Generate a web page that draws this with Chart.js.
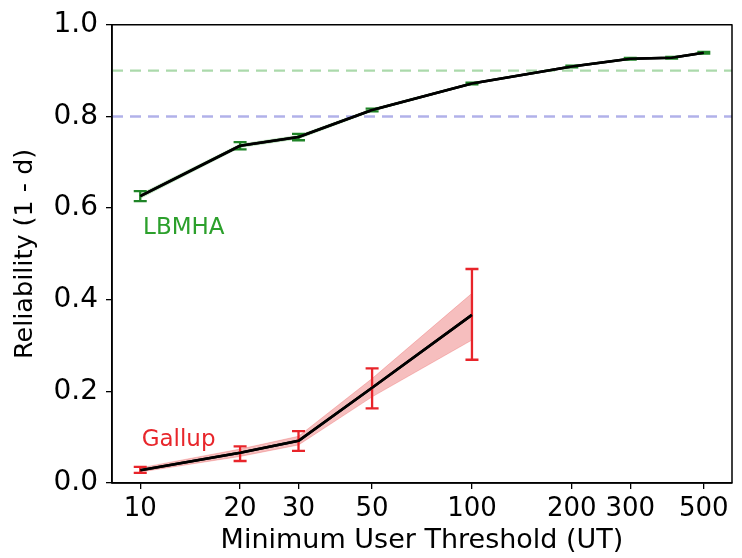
<!DOCTYPE html>
<html>
<head>
<meta charset="utf-8">
<script src="https://cdn.jsdelivr.net/npm/chart.js@4/dist/chart.umd.min.js"></script>
<style>
  body { margin: 0; background: #fff; }
</style>
</head>
<body>
<canvas id="myChart" width="742" height="558"></canvas>
<script>
// thresholds (UT)
const lbmhaX = [10, 20, 30, 50, 100, 200, 300, 400, 500];
const lbmhaY = [0.626, 0.736, 0.755, 0.814, 0.872, 0.909, 0.926, 0.928, 0.939];
const lbmhaErrLo = [0.615, 0.728, 0.748, 0.811, 0.870, 0.907, 0.924, 0.926, 0.937];
const lbmhaErrHi = [0.637, 0.744, 0.762, 0.817, 0.874, 0.911, 0.928, 0.930, 0.941];
const lbmhaBandLo = [0.621, 0.732, 0.751, 0.811, 0.870, 0.907, 0.924, 0.926, 0.937];
const lbmhaBandHi = [0.631, 0.740, 0.759, 0.817, 0.874, 0.911, 0.928, 0.930, 0.941];

const gallupX = [10, 20, 30, 50, 100];
const gallupY = [0.028, 0.066, 0.092, 0.208, 0.367];
const gallupErrLo = [0.022, 0.048, 0.070, 0.163, 0.269];
const gallupErrHi = [0.035, 0.080, 0.113, 0.250, 0.467];
const gallupBandLo = [0.024, 0.058, 0.083, 0.188, 0.312];
const gallupBandHi = [0.033, 0.074, 0.102, 0.228, 0.414];

const refLevels = [0.9, 0.8];
const xTicks = [10, 20, 30, 50, 100, 200, 300, 500];
const xMin = 8.22, xMax = 608;

const FONT = "'DejaVu Sans', sans-serif";

function pts(xs, ys) {
  return xs.map((x, i) => ({x: x, y: ys[i]}));
}

// error bars with caps, drawn from the arrays through the scales
const errorBars = {
  id: 'errorBars',
  afterDatasetsDraw(chart) {
    const ctx = chart.ctx;
    const xs = chart.scales.x, ys = chart.scales.y;
    const sets = [
      {x: lbmhaX, lo: lbmhaErrLo, hi: lbmhaErrHi, color: '#1f8427', w: 2.3},
      {x: gallupX, lo: gallupErrLo, hi: gallupErrHi, color: '#e8242a', w: 2.3}
    ];
    ctx.save();
    sets.forEach(s => {
      ctx.strokeStyle = s.color;
      ctx.lineWidth = s.w;
      s.x.forEach((v, i) => {
        const px = xs.getPixelForValue(v);
        const y1 = ys.getPixelForValue(s.lo[i]);
        const y2 = ys.getPixelForValue(s.hi[i]);
        ctx.beginPath();
        ctx.moveTo(px, y1); ctx.lineTo(px, y2);
        ctx.moveTo(px - 6.5, y1); ctx.lineTo(px + 6.5, y1);
        ctx.moveTo(px - 6.5, y2); ctx.lineTo(px + 6.5, y2);
        ctx.stroke();
      });
    });
    // redraw main lines on top
    [2, 5].forEach(idx => {
      const meta = chart.getDatasetMeta(idx);
      ctx.strokeStyle = '#000';
      ctx.lineWidth = 2.6;
      ctx.lineJoin = 'round';
      ctx.beginPath();
      meta.data.forEach((p, i) => { if (i === 0) ctx.moveTo(p.x, p.y); else ctx.lineTo(p.x, p.y); });
      ctx.stroke();
    });
    // text labels
    ctx.font = '23px ' + FONT;
    ctx.textAlign = 'left';
    ctx.textBaseline = 'middle';
    ctx.fillStyle = '#2ca02c';
    ctx.fillText('LBMHA', xs.getPixelForValue(10.2), ys.getPixelForValue(0.556));
    ctx.fillStyle = '#e8262b';
    ctx.fillText('Gallup', xs.getPixelForValue(10.1), ys.getPixelForValue(0.093));
    // frame
    const a = chart.chartArea;
    ctx.strokeStyle = '#000';
    ctx.lineWidth = 1.5;
    ctx.strokeRect(a.left, a.top, a.right - a.left, a.bottom - a.top);
    ctx.restore();
  }
};

const data = {
  datasets: [
    {
      data: [{x: xMin, y: refLevels[0]}, {x: xMax, y: refLevels[0]}],
      borderColor: 'rgba(44,160,44,0.4)', borderWidth: 2.4, borderDash: [11, 7]
    },
    {
      data: [{x: xMin, y: refLevels[1]}, {x: xMax, y: refLevels[1]}],
      borderColor: 'rgba(60,60,200,0.4)', borderWidth: 2.4, borderDash: [11, 7]
    },
    {
      data: pts(lbmhaX, lbmhaY),
      borderColor: '#000', borderWidth: 2.6
    },
    {
      data: pts(lbmhaX, lbmhaBandHi),
      borderColor: 'rgba(44,160,44,0.3)', borderWidth: 0.5,
      backgroundColor: 'rgba(44,160,44,0.3)', fill: '+1'
    },
    {
      data: pts(lbmhaX, lbmhaBandLo),
      borderColor: 'rgba(44,160,44,0.3)', borderWidth: 0.5
    },
    {
      data: pts(gallupX, gallupY),
      borderColor: '#000', borderWidth: 2.6
    },
    {
      data: pts(gallupX, gallupBandHi),
      borderColor: 'rgba(225,40,40,0.3)', borderWidth: 0.8,
      backgroundColor: 'rgba(225,40,40,0.3)', fill: '+1'
    },
    {
      data: pts(gallupX, gallupBandLo),
      borderColor: 'rgba(225,40,40,0.3)', borderWidth: 0.8
    }
  ]
};

const config = {
  type: 'line',
  data: data,
  plugins: [errorBars],
  options: {
    responsive: false,
    animation: false,
    layout: { padding: { top: 21, right: 10, bottom: 0, left: 0 } },
    elements: { point: { radius: 0 }, line: { tension: 0 } },
    plugins: { legend: { display: false }, tooltip: { enabled: false } },
    scales: {
      x: {
        type: 'logarithmic',
        min: xMin, max: xMax,
        afterBuildTicks: s => { s.ticks = xTicks.map(v => ({value: v})); },
        afterFit: s => { s.height = 75; },
        grid: { drawOnChartArea: false, drawTicks: true, tickLength: 6, color: '#000', lineWidth: 1.3 },
        border: { color: '#000', width: 1.5 },
        ticks: {
          autoSkip: false, maxRotation: 0, padding: 5,
          color: '#000', font: { family: FONT, size: 26 },
          callback: v => String(v)
        },
        title: {
          display: true, text: 'Minimum User Threshold (UT)',
          color: '#000', font: { family: FONT, size: 27 },
          padding: { top: 0, bottom: 1 }
        }
      },
      y: {
        min: 0, max: 1,
        afterFit: s => { s.width = 112; },
        grid: { drawOnChartArea: false, drawTicks: true, tickLength: 6, color: '#000', lineWidth: 1.3 },
        border: { color: '#000', width: 1.5 },
        ticks: {
          stepSize: 0.2, padding: 8,
          color: '#000', font: { family: FONT, size: 28 },
          callback: v => Number(v).toFixed(1)
        },
        title: {
          display: true, text: 'Reliability (1 - d)',
          color: '#000', font: { family: FONT, size: 25.5 },
          padding: { top: 10, bottom: 0 }
        }
      }
    }
  }
};

const context = document.getElementById('myChart').getContext('2d');
const chart = new Chart(context, config);
</script>
</body>
</html>
